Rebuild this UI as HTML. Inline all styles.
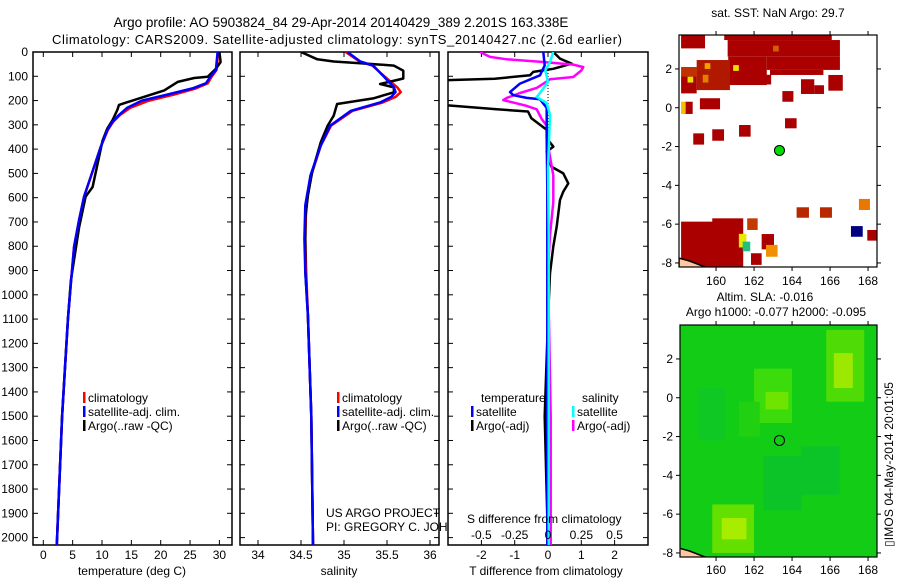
<!DOCTYPE html>
<html><head><meta charset="utf-8"><style>
html,body{margin:0;padding:0;background:#fff;}
svg{display:block;font-family:"Liberation Sans",sans-serif;}
</style></head><body>
<svg id="fig" width="900" height="580" viewBox="0 0 900 580" xmlns="http://www.w3.org/2000/svg">
<defs>
<clipPath id="c1"><rect x="33" y="52" width="199" height="493"/></clipPath>
<clipPath id="c2"><rect x="240" y="52" width="199" height="493"/></clipPath>
<clipPath id="c3"><rect x="448" y="52" width="200" height="493"/></clipPath>
<clipPath id="m1"><rect x="679" y="35" width="198" height="232"/></clipPath>
<clipPath id="m2"><rect x="680" y="325" width="197" height="232"/></clipPath>
</defs>
<text x="341" y="27" font-size="13.5" text-anchor="middle">Argo profile: AO 5903824_84 29-Apr-2014 20140429_389 2.201S 163.338E</text>
<text x="52" y="44" font-size="13" textLength="570">Climatology: CARS2009. Satellite-adjusted climatology: synTS_20140427.nc (2.6d earlier)</text>
<g id="g1"></g>
<g id="g2"></g>
<g id="g3"></g>
<g id="g4"></g>
<g id="g5"></g>
<text transform="translate(893,547) rotate(-90)" font-size="12" textLength="165">▯IMOS 04-May-2014 20:01:05</text>
</svg>
<script>
// ---- data ----
const depthTicks=[0,100,200,300,400,500,600,700,800,900,1000,1100,1200,1300,1400,1500,1600,1700,1800,1900,2000];
const tTicks=[0,5,10,15,20,25,30];
const sTicks=[34,34.5,35,35.5,36];
const dTTicks=[-2,-1,0,1,2];
const dSTicks=[-0.5,-0.25,0,0.25,0.5];
const lonTicks=[160,162,164,166,168];
const latTicks=[-8,-6,-4,-2,0,2];
const tClimDepth=[0,74,101,129,150,175,200,230,259,287,321,390,513,595,691,801,952,1096,1300,1500,1800,2030];
const tClim=[29.8,29.5,28.7,28.0,26.0,22.3,18.0,14.8,13.1,11.9,11.0,9.8,8.1,6.95,6.1,5.25,4.7,4.2,3.7,3.2,2.7,2.3];
const tSat=[29.7,29.4,28.5,27.7,25.4,21.2,16.8,14.3,12.9,11.8,10.9,9.8,8.1,6.95,6.1,5.25,4.7,4.2,3.7,3.2,2.7,2.3];
const tArgoDepth=[0,41,69,102,107,123,158,189,218,239,280,315,364,556,596,722,940,1096,1300,1500,1800,2030];
const tArgo=[30.0,30.2,29.4,28.0,25.7,22.9,20.6,16.6,12.9,12.6,11.8,10.9,10.1,8.4,7.2,6.1,4.7,4.2,3.7,3.2,2.7,2.3];
const sArgoDepth=[0,30,39,46,56,77,109,132,146,166,191,214,262,303,371,494,590,686,905,1083,1500,2030];
const sArgo=[34.50,34.69,34.88,35.19,35.58,35.69,35.69,35.42,35.58,35.58,35.34,34.92,34.88,34.81,34.73,34.63,34.58,34.55,34.55,34.58,34.62,34.64];
const sClimDepth=[0,39,56,100,146,165,185,208,242,303,385,508,631,769,905,1083,1500,2030];
const sSat=[35.04,35.19,35.34,35.46,35.58,35.60,35.55,35.42,35.08,34.84,34.73,34.61,34.55,34.54,34.55,34.58,34.62,34.64];
const sClim=[35.02,35.18,35.33,35.47,35.62,35.66,35.60,35.45,35.10,34.85,34.73,34.62,34.56,34.55,34.56,34.58,34.62,34.64];
const dTArgoDepth=[0,27,48,69,82,96,110,118,200,218,236,245,273,300,320,355,390,410,472,500,541,575,609,719,801,911,1100,1500,2030];
const dTArgo=[0.16,0.36,0.71,0.16,-0.44,-0.54,-1.6,-3.5,-3.5,-3.2,-1.54,-0.6,-0.5,-0.24,-0.04,-0.04,0.16,-0.04,0.1,0.46,0.61,0.46,0.36,0.26,0.16,0.06,0.0,-0.1,0.0];
const dSArgoDepth=[0,20,30,41,52,62,76,103,112,122,148,169,189,198,222,236,276,303,385,508,618,755,892,1500,2030];
const dSArgo=[-0.51,-0.435,-0.31,-0.035,0.19,0.265,0.25,0.19,0.015,-0.01,-0.085,-0.21,-0.31,-0.335,-0.16,-0.085,-0.047,-0.01,0.0,0.04,0.04,0.015,0.0,0.02,0.02];
const dTSatDepth=[0,55,96,130,165,178,189,195,230,355,560,1500,2030];
const dTSat=[-0.14,-0.1,-0.24,-0.84,-1.14,-1.04,-0.64,-0.24,-0.04,-0.04,-0.02,-0.02,-0.02];
const dSSatDepth=[0,41,76,123,169,185,210,260,480,755,1500,2030];
const dSSat=[0.04,0.015,-0.02,0.0,-0.06,-0.085,-0.01,0.015,0.0,0.005,0.005,0.005];
// SST map cells: lon0, lon1, lat0, lat1, colour
const sstLon0=[158.16,160.43,160.61,160.64,162.67,162.84,158.98,158.16,164.47,165.17,165.91,163.49,159.15,158.37,163.63,161.21,159.80,158.80,158.16,159.80,161.64,162.40,161.84,164.24,165.47,167.52,167.10,167.96,162.63,161.20,161.40,158.16,160.9,159.3,163.0,158.16,162.0,159.4,158.5];
const sstLon1=[159.42,166.09,166.52,162.67,166.52,165.65,160.73,158.98,165.17,165.68,166.67,164.07,160.21,158.77,164.24,161.82,160.42,159.37,160.00,161.43,162.19,163.05,162.40,164.89,166.10,168.10,167.72,168.47,163.24,161.60,161.80,158.40,161.2,159.6,163.3,159.0,162.9,159.7,158.8];
const sstLat0=[3.06,3.49,2.63,1.17,1.95,1.69,0.91,0.74,0.71,0.71,0.88,0.31,-0.08,-0.32,-1.06,-1.49,-1.70,-1.90,-8.20,-8.20,-6.30,-7.30,-8.10,-5.67,-5.67,-5.27,-6.65,-6.85,-7.68,-7.20,-7.40,-0.32,1.9,1.3,2.9,1.6,1.2,2.0,1.3];
const sstLat1=[3.75,3.75,3.49,2.63,2.63,1.95,2.46,1.69,1.47,1.16,1.69,0.86,0.49,0.31,-0.54,-0.89,-1.11,-1.32,-5.87,-5.70,-5.70,-6.51,-7.50,-5.13,-5.13,-4.70,-6.10,-6.30,-7.07,-6.50,-6.90,0.31,2.2,1.7,3.2,2.1,1.7,2.3,1.6];
const sstCol=["#aa0000","#aa0000","#aa0000","#aa0000","#aa0000","#aa0000","#b01800","#aa0000","#aa0000","#aa0000","#aa0000","#aa0000","#aa0000","#aa0000","#aa0000","#aa0000","#aa0000","#aa0000","#aa0000","#aa0000","#c03c00","#aa0000","#aa0000","#b82800","#b82800","#e87800","#000080","#aa0000","#f09000","#e8e800","#20c080","#f0c000","#f0e000","#e08000","#d06000","#c03000","#aa0000","#f0a000","#e8e000"];
// SLA map patches
const slaLon0=[158.1,162.0,162.6,165.8,166.2,159.8,160.3,161.2,162.5,164.5,159.0];
const slaLon1=[168.5,164.0,163.8,167.8,167.2,162.0,161.6,162.3,164.5,166.5,160.5];
const slaLat0=[-8.2,-1.3,-0.6,-0.2,0.5,-8.0,-7.3,-2.0,-5.8,-5.0,-2.2];
const slaLat1=[3.75,1.5,0.3,3.5,2.3,-5.5,-6.2,-0.2,-3.0,-2.5,0.5];
const slaCol=["#12cc16","#3cdc0c","#6fe400","#4fdc06","#9ce800","#64e000","#a8ec00","#22d012","#0cc428","#0cc428","#10c824"];

// ---- helpers ----
const NS="http://www.w3.org/2000/svg";
function el(tag,attrs,parent){const e=document.createElementNS(NS,tag);for(const k in attrs)e.setAttribute(k,attrs[k]);parent.appendChild(e);return e;}
const yD=d=>52+d*0.2428;
const xT=t=>43.3+t*5.87;
const xS=s=>258+(s-34)*86;
const xDT=t=>548+t*33.3;
const xDS=s=>548+s*133.3;
const xLon=l=>679+(l-158.05)*19;
const yLat1=l=>35+(3.75-l)*19.4;
const yLat2=l=>325+(3.75-l)*19.4;

function frame(g,x0,x1,yTop,yBot,ticksPx,labels,labY,lefts){
  const r=el('rect',{x:x0,y:yTop,width:x1-x0,height:yBot-yTop,fill:'none',stroke:'#000','stroke-width':1.5},g);
  
  
  ticksPx.forEach((px,i)=>{
    el('line',{x1:px,x2:px,y1:yTop,y2:yTop+5,stroke:'#000'},g);
    el('line',{x1:px,x2:px,y1:yBot,y2:yBot-5,stroke:'#000'},g);
    if(labels){const t=el('text',{x:px,y:labY,'font-size':12,'text-anchor':'middle'},g);t.textContent=labels[i];
      
      }
  });
  depthTicks.forEach(d=>{const y=yD(d);
    el('line',{x1:x0,x2:x0+5,y1:y,y2:y,stroke:'#000'},g);
    el('line',{x1:x1,x2:x1-5,y1:y,y2:y,stroke:'#000'},g);
    if(lefts){const t=el('text',{x:28,y:y+4,'font-size':12,'text-anchor':'end'},g);t.textContent=d;
      
      }
  });
}
function line(g,xs,ds,xf,col,w,clip,name){
  const p=xs.map((v,i)=>xf(v).toFixed(1)+','+yD(ds[i]).toFixed(1)).join(' ');
  const pl=el('polyline',{points:p,fill:'none',stroke:col,'stroke-width':w,'clip-path':'url(#'+clip+')','stroke-linejoin':'round'},g);
  
  
}
function txt(g,x,y,s,name,anchor){const t=el('text',{x:x,y:y,'font-size':12,'text-anchor':anchor||'start'},g);t.textContent=s;
  
  return t;}
function legend(g,x,y,col,label,name){el('rect',{x:x-3,y:y-10,width:2.5,height:11,fill:col},g);const t=txt(g,x+2,y,label,name);return t;}

// ---- panel 1 ----
const g1=document.getElementById('g1');
frame(g1,33,232,52,545,tTicks.map(xT),tTicks,559,true);
line(g1,tClim,tClimDepth,xT,'#ff0000',2.5,'c1','temp-climatology-line');
line(g1,tArgo,tArgoDepth,xT,'#000',2.5,'c1','temp-argo-line');
line(g1,tSat,tClimDepth,xT,'#0000ff',2.5,'c1','temp-satellite-line');
legend(g1,86,402,'#ff0000','climatology','legend-climatology');
legend(g1,86,416,'#0000ff','satellite-adj. clim.','legend-satellite');
legend(g1,86,430,'#000','Argo(..raw -QC)','legend-argo');
txt(g1,132,575,'temperature (deg C)','x-axis-title-temperature','middle');

// ---- panel 2 ----
const g2=document.getElementById('g2');
frame(g2,240,439,52,545,sTicks.map(xS),sTicks,559,false);
line(g2,sClim,sClimDepth,xS,'#ff0000',2.5,'c2','sal-climatology-line');
line(g2,sArgo,sArgoDepth,xS,'#000',2.5,'c2','sal-argo-line');
line(g2,sSat,sClimDepth,xS,'#0000ff',2.5,'c2','sal-satellite-line');
legend(g2,340,402,'#ff0000','climatology','legend-climatology-2');
legend(g2,340,416,'#0000ff','satellite-adj. clim.','legend-satellite-2');
legend(g2,340,430,'#000','Argo(..raw -QC)','legend-argo-2');
txt(g2,326,517,'US ARGO PROJECT','project-label');
txt(g2,326,531,'PI: GREGORY C. JOHNSON','pi-label');
txt(g2,339,575,'salinity','x-axis-title-salinity','middle');

// ---- panel 3 ----
const g3=document.getElementById('g3');
el('rect',{x:448,y:52,width:200,height:493,fill:'#fff'},g3);
frame(g3,448,648,52,545,dTTicks.map(xDT),dTTicks,559,false);
el('line',{x1:548,x2:548,y1:70,y2:545,stroke:'#000','stroke-dasharray':'1,2','stroke-width':1},g3);
line(g3,dTArgo,dTArgoDepth,xDT,'#000',2.5,'c3','dt-argo-line');
line(g3,dSArgo,dSArgoDepth,xDS,'#ff00ff',2.5,'c3','ds-argo-line');
line(g3,dTSat,dTSatDepth,xDT,'#0000ff',2.5,'c3','dt-satellite-line');
line(g3,dSSat,dSSatDepth,xDS,'#00ffff',2.5,'c3','ds-satellite-line');
txt(g3,481,402,'temperature','legend-temperature-header');
txt(g3,582,402,'salinity','legend-salinity-header');
legend(g3,474,416,'#0000ff','satellite','legend-t-satellite');
legend(g3,474,430,'#000','Argo(-adj)','legend-t-argo');
legend(g3,575,416,'#00ffff','satellite','legend-s-satellite');
legend(g3,575,430,'#ff00ff','Argo(-adj)','legend-s-argo');
dSTicks.forEach(s=>txt(g3,xDS(s),539,String(s),'s-tick-label','middle'));
txt(g3,467,523,'S difference from climatology','s-axis-title');
txt(g3,546,575,'T difference from climatology','x-axis-title-tdiff','middle');

// ---- maps ----
function mapFrame(g,x0,x1,yTop,yBot,yLat,labY){
  lonTicks.forEach(l=>{const x=xLon(l);
    el('line',{x1:x,x2:x,y1:yTop,y2:yTop-4,stroke:'#000'},g);
    el('line',{x1:x,x2:x,y1:yBot,y2:yBot+4,stroke:'#000'},g);
    txt(g,x,labY,String(l),'lon-tick-label','middle');});
  latTicks.forEach(l=>{const y=yLat(l);
    el('line',{x1:x0,x2:x0-4,y1:y,y2:y,stroke:'#000'},g);
    el('line',{x1:x1,x2:x1+4,y1:y,y2:y,stroke:'#000'},g);
    txt(g,x0-7,y+4,String(l),'lat-tick-label','end');});
  const r=el('rect',{x:x0,y:yTop,width:x1-x0,height:yBot-yTop,fill:'none',stroke:'#000','stroke-width':1.2},g);
  
  
}
function coast(g,yLat,clip){
  const p=[[158.05,-7.75],[158.6,-7.9],[159.4,-8.2],[159.8,-8.3],[158.05,-8.3]].map(q=>xLon(q[0])+','+yLat(q[1])).join(' ');
  const c=el('polygon',{points:p,fill:'#ffc8a0',stroke:'#000','stroke-width':1.5,'clip-path':'url(#'+clip+')'},g);
  
  
}
const g4=document.getElementById('g4');
sstLon0.forEach((l,i)=>{const r=el('rect',{x:xLon(l),y:yLat1(sstLat1[i]),width:(sstLon1[i]-l)*19,height:(sstLat1[i]-sstLat0[i])*19.4,fill:sstCol[i],'clip-path':'url(#m1)'},g4);
  
  });
coast(g4,yLat1,'m1');
const a1=el('circle',{cx:xLon(163.338),cy:yLat1(-2.201),r:5,fill:'#00dd00',stroke:'#000','stroke-width':1},g4);


mapFrame(g4,679,877,35,267,yLat1,285);
txt(g4,778,17,'sat. SST: NaN Argo: 29.7','sst-map-title','middle');

const g5=document.getElementById('g5');
slaLon0.forEach((l,i)=>{const r=el('rect',{x:xLon(l),y:yLat2(slaLat1[i]),width:(slaLon1[i]-l)*19,height:(slaLat1[i]-slaLat0[i])*19.4,fill:slaCol[i],'clip-path':'url(#m2)'},g5);
  
  });
coast(g5,yLat2,'m2');
const a2=el('circle',{cx:xLon(163.338),cy:yLat2(-2.201),r:5,fill:'none',stroke:'#000','stroke-width':1},g5);


mapFrame(g5,680,877,325,557,yLat2,574);
txt(g5,765,301,'Altim. SLA: -0.016','sla-map-title','middle');
txt(g5,776,316,'Argo h1000: -0.077 h2000: -0.095','sla-map-subtitle','middle');
</script>
</body></html>
